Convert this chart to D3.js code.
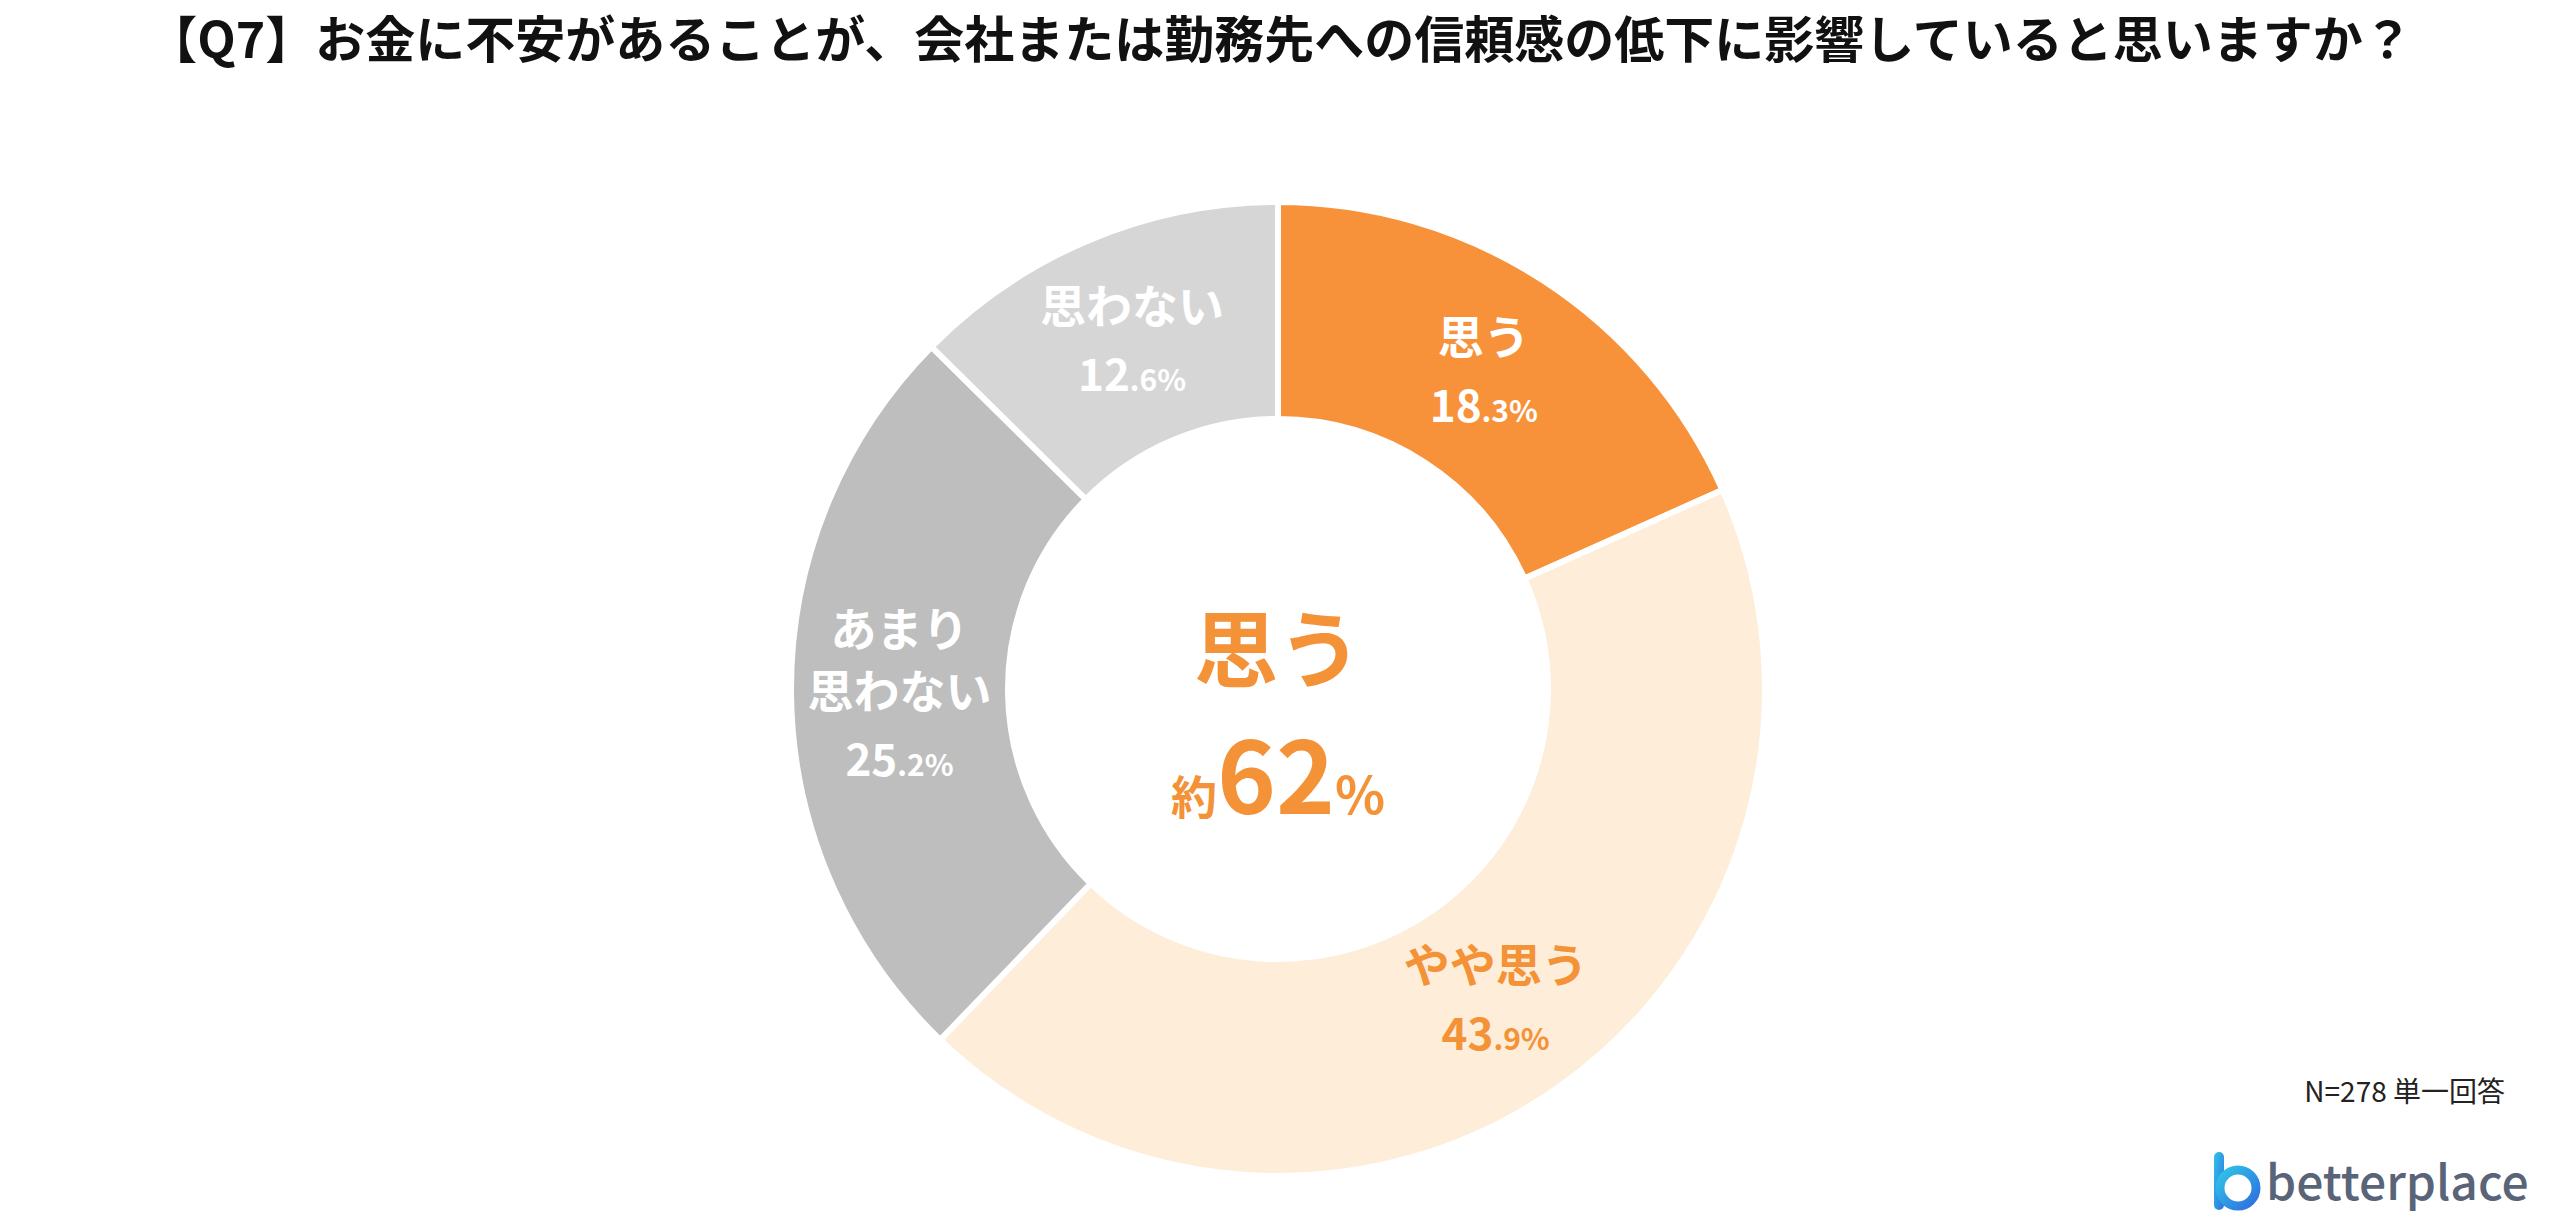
<!DOCTYPE html>
<html><head><meta charset="utf-8">
<script src="https://cdn.jsdelivr.net/npm/d3@7"></script>
<style>body{margin:0;background:#fff}text{font-family:"Noto Sans CJK JP","Noto Sans",sans-serif}</style>
</head><body>
<svg id="c" width="2560" height="1231"></svg>
<script>
var labels = [["思う"], ["やや思う"], ["あまり", "思わない"], ["思わない"]];
var values = [18.3, 43.9, 25.2, 12.6];
var colors = ["#F7923A", "#FDEDD9", "#BEBEBE", "#D6D6D6"];
var textColors = ["#fff", "#F39237", "#fff", "#fff"];

var svg = d3.select("#c");
var cx = 1278, cy = 689, rO = 487, rI = 270;

svg.append("text").attr("x", 1280).attr("y", 58).attr("text-anchor", "middle")
  .attr("font-size", 50).attr("font-weight", "bold").attr("fill", "#111")
  .text("【Q7】お金に不安があることが、会社または勤務先への信頼感の低下に影響していると思いますか？");

var pie = d3.pie().sort(null).value(function(d){ return d; });
var arc = d3.arc().innerRadius(rI).outerRadius(rO);
var g = svg.append("g").attr("transform", "translate(" + cx + "," + cy + ")");
var arcs = pie(values);

g.selectAll("path").data(arcs).enter().append("path")
  .attr("d", arc).attr("fill", function(d, i){ return colors[i]; })
  .attr("stroke", "#fff").attr("stroke-width", 6);

arcs.forEach(function(d, i) {
  var c = arc.centroid(d);
  var lines = labels[i];
  var lh = 62;
  var y0 = c[1] - (lines.length) * lh / 2 + 14;
  lines.forEach(function(l, k) {
    g.append("text").attr("text-anchor", "middle").attr("fill", textColors[i])
      .attr("font-weight", "bold").attr("x", c[0]).attr("y", y0 + k * lh)
      .attr("font-size", 46).text(l);
  });
  var parts = values[i].toFixed(1).split(".");
  var n = g.append("text").attr("text-anchor", "middle").attr("fill", textColors[i])
    .attr("font-weight", "bold").attr("x", c[0]).attr("y", y0 + lines.length * lh + 6);
  n.append("tspan").attr("font-size", 44).text(parts[0]);
  n.append("tspan").attr("font-size", 30).text("." + parts[1] + "%");
});

var total = Math.round(values[0] + values[1]);
g.append("text").attr("text-anchor", "middle").attr("y", -8).attr("fill", "#F39237")
  .attr("font-size", 84).attr("font-weight", "bold").text("思う");
var ct = g.append("text").attr("text-anchor", "middle").attr("y", 125).attr("fill", "#F39237").attr("font-weight", "bold");
ct.append("tspan").attr("font-size", 46).text("約");
ct.append("tspan").attr("font-size", 100).text(total);
ct.append("tspan").attr("font-size", 52).text("%");

svg.append("text").attr("x", 2505).attr("y", 1102).attr("text-anchor", "end")
  .attr("font-size", 28).attr("fill", "#222").text("N=278 単一回答");

// logo
var lg = svg.append("g").attr("transform", "translate(2210,1150)");
var grad = svg.append("defs").append("linearGradient").attr("id", "lgd").attr("x1", 0).attr("y1", 0).attr("x2", 1).attr("y2", 1);
grad.append("stop").attr("offset", 0).attr("stop-color", "#2FC4E8");
grad.append("stop").attr("offset", 1).attr("stop-color", "#2F6FE0");
lg.append("rect").attr("x", 4).attr("y", 2).attr("width", 10).attr("height", 58).attr("rx", 5).attr("fill", "url(#lgd)");
lg.append("circle").attr("cx", 28).attr("cy", 38).attr("r", 18).attr("fill", "none").attr("stroke", "url(#lgd)").attr("stroke-width", 9);
lg.append("text").attr("x", 56).attr("y", 50).attr("font-family", "Noto Sans").attr("font-size", 48)
  .attr("fill", "#5A6478").attr("font-weight", "500").text("betterplace");
</script>
</body></html>
